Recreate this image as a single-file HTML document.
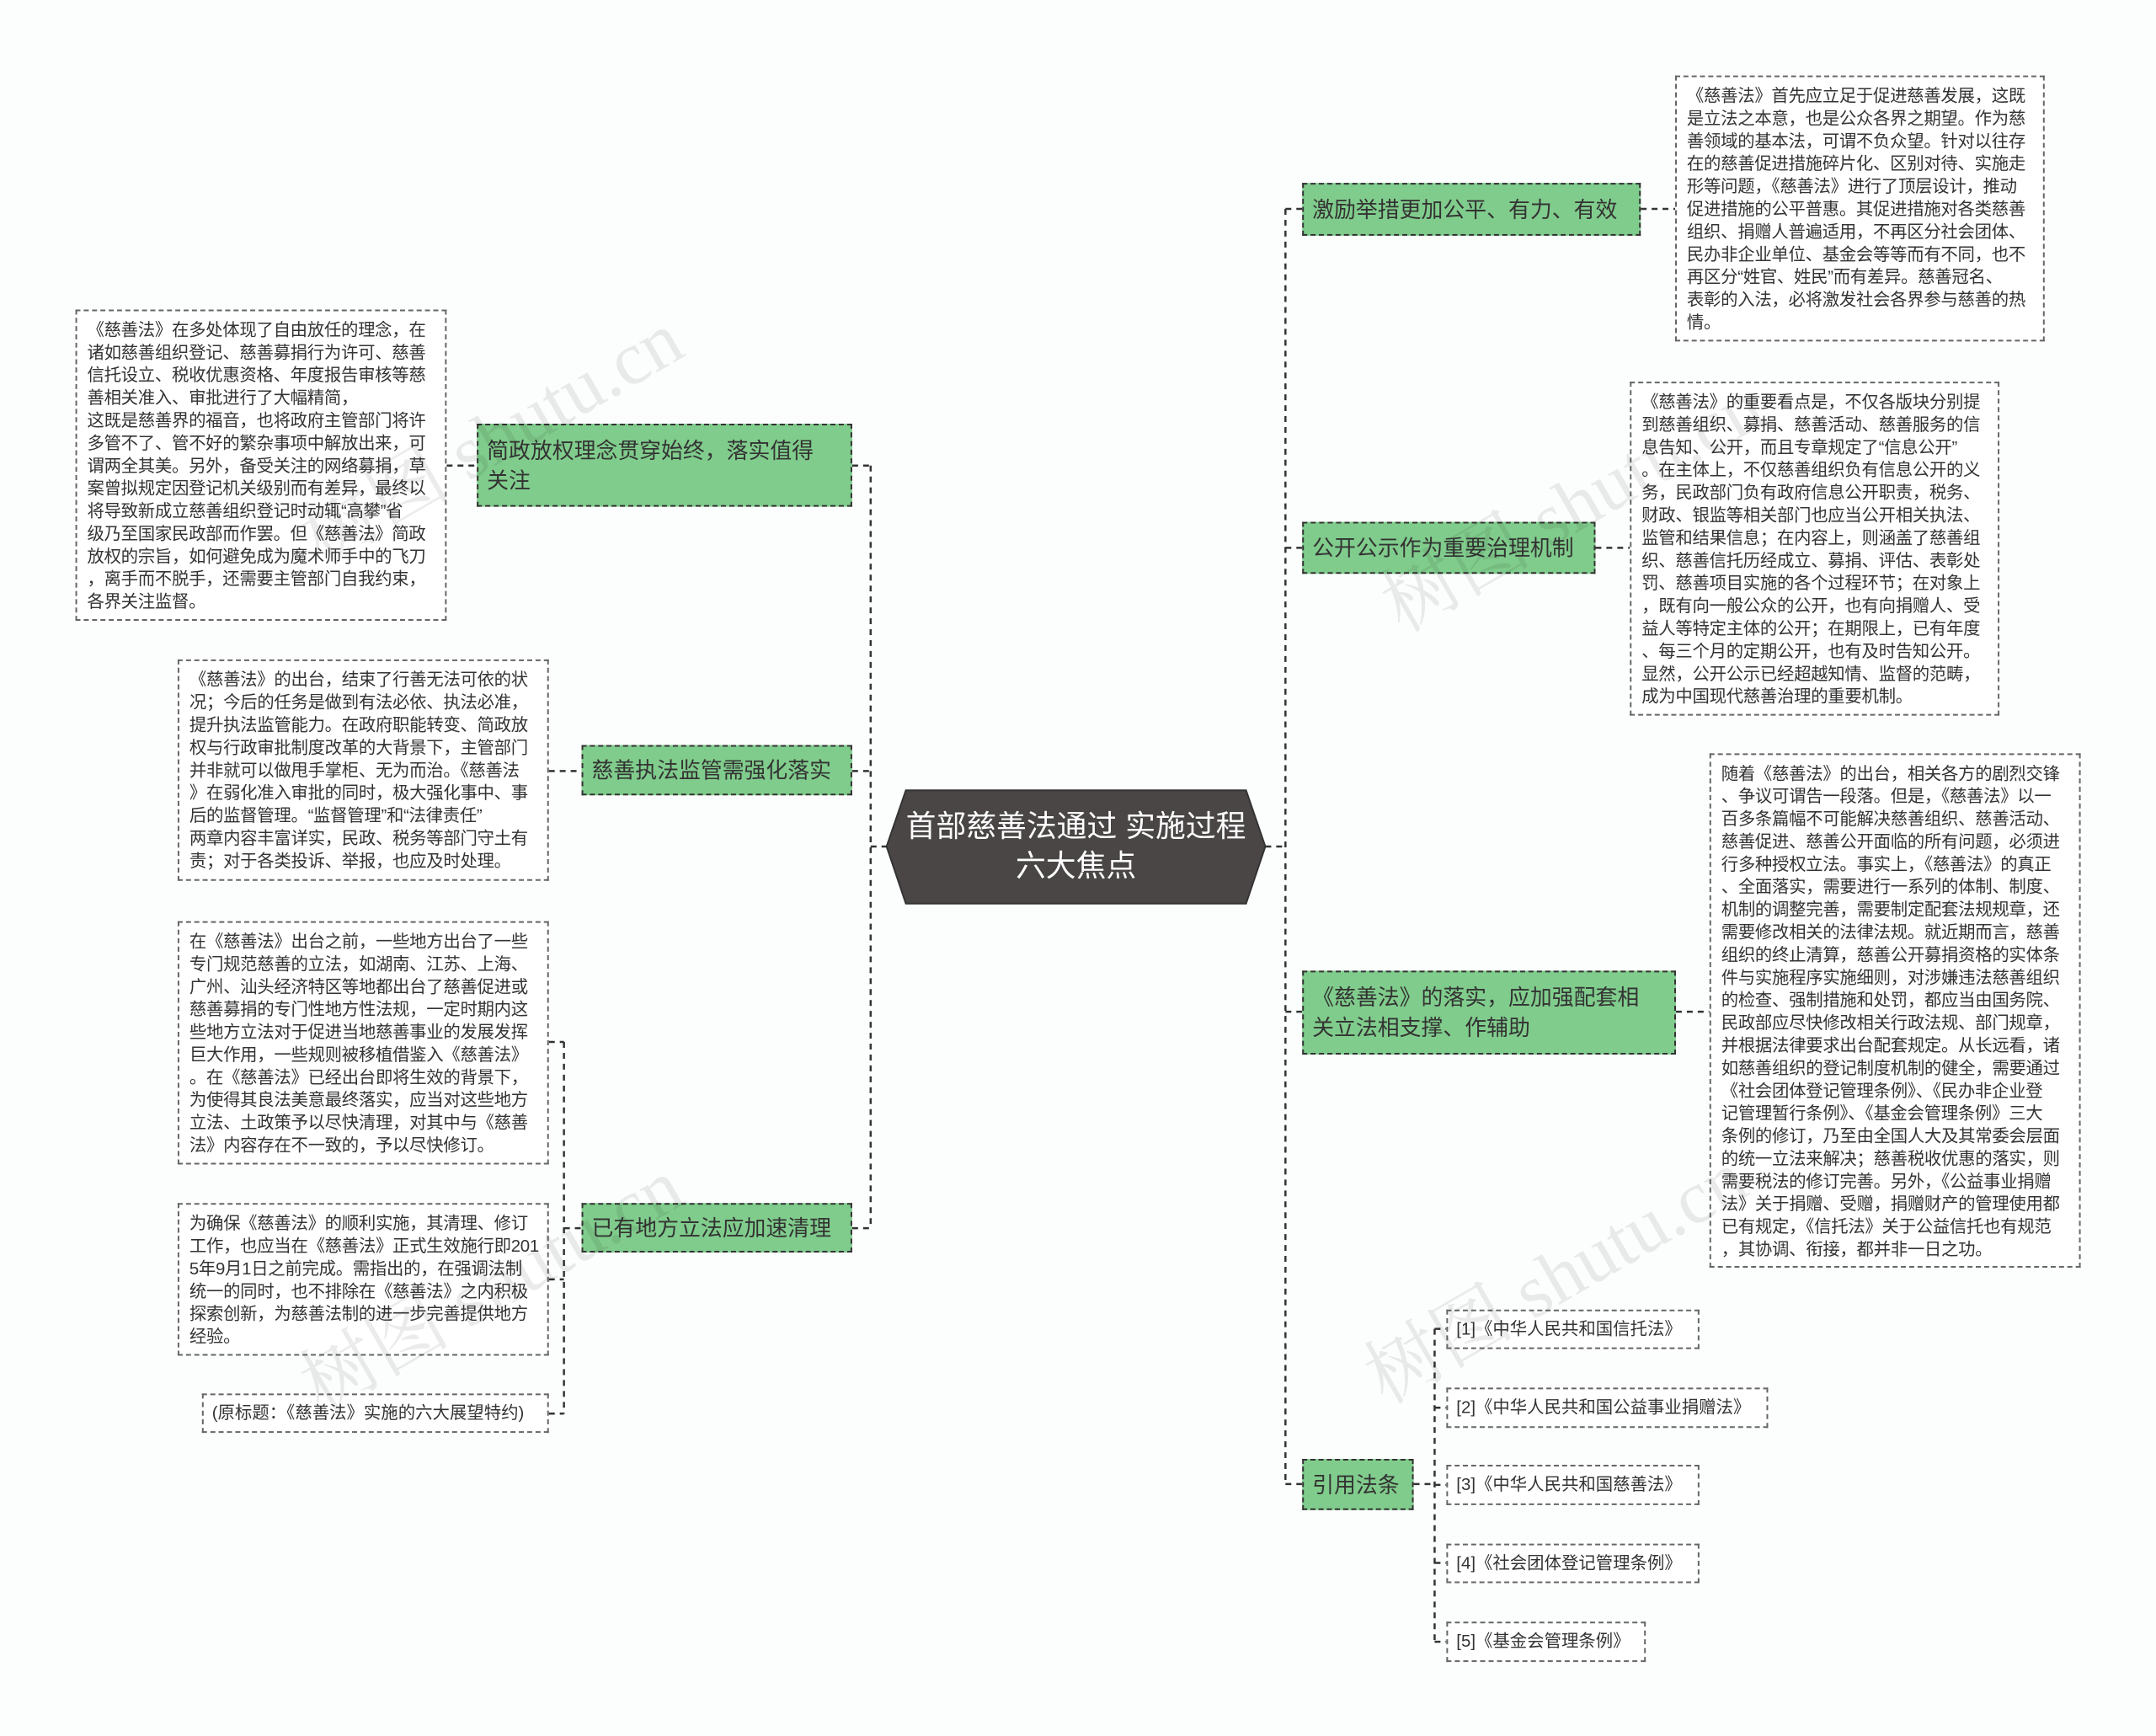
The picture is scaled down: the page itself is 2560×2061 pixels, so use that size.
<!DOCTYPE html>
<html><head><meta charset="utf-8">
<style>
html,body{margin:0;padding:0}
body{width:2560px;height:2061px;position:relative;background:#fcfefe;overflow:hidden;font-family:"Liberation Sans","Noto Sans CJK SC",sans-serif}
#w{position:absolute;left:0;top:0;width:2560px;height:2061px;transform:scale(0.995,0.996);transform-origin:0 0}
.g{position:absolute;background:#80cc8c;border:2px dashed #333;box-sizing:border-box;color:#333;font-size:26px;line-height:36px;padding:0 10px;display:flex;align-items:center;white-space:nowrap}
.t{position:absolute;background:#fff;border:2px dashed #666;box-sizing:border-box;color:#333;font-size:20.5px;line-height:27px;padding:9px 10px 0 12px;white-space:nowrap;letter-spacing:-0.3px}
.r{position:absolute;background:#fff;border:2px dashed #666;box-sizing:border-box;color:#333;font-size:20.5px;line-height:43px;padding:0 10px;white-space:nowrap}
.wm{position:absolute;font-size:90px;color:rgba(0,0,0,0.08);transform:rotate(-30deg);white-space:nowrap;font-family:"Liberation Serif","Noto Serif CJK SC",serif}
</style></head><body><div id="w">
<svg width="2560" height="2061" style="position:absolute;left:0;top:0">
<g stroke="#333" stroke-width="2.5" stroke-dasharray="7,6" fill="none">
<line x1="1039" y1="555" x2="1039" y2="1464"/>
<line x1="1039" y1="1009" x2="1058" y2="1009"/>
<line x1="1017" y1="555" x2="1039" y2="555"/>
<line x1="1017" y1="919" x2="1039" y2="919"/>
<line x1="1017" y1="1464" x2="1039" y2="1464"/>
<line x1="533" y1="555" x2="569" y2="555"/>
<line x1="655" y1="919" x2="694" y2="919"/>
<line x1="673" y1="1464" x2="694" y2="1464"/>
<line x1="673" y1="1242" x2="673" y2="1685"/>
<line x1="655" y1="1242" x2="673" y2="1242"/>
<line x1="655" y1="1525" x2="673" y2="1525"/>
<line x1="655" y1="1685" x2="673" y2="1685"/>
<line x1="1534" y1="249" x2="1534" y2="1769"/>
<line x1="1510" y1="1009" x2="1534" y2="1009"/>
<line x1="1534" y1="249" x2="1554" y2="249"/>
<line x1="1534" y1="653" x2="1554" y2="653"/>
<line x1="1534" y1="1206" x2="1554" y2="1206"/>
<line x1="1534" y1="1769" x2="1554" y2="1769"/>
<line x1="1958" y1="249" x2="1999" y2="249"/>
<line x1="1904" y1="653" x2="1945" y2="653"/>
<line x1="2000" y1="1206" x2="2040" y2="1206"/>
<line x1="1687" y1="1769" x2="1712" y2="1769"/>
<line x1="1712" y1="1584" x2="1712" y2="1957"/>
<line x1="1712" y1="1584" x2="1726" y2="1584"/>
<line x1="1712" y1="1678" x2="1726" y2="1678"/>
<line x1="1712" y1="1770" x2="1726" y2="1770"/>
<line x1="1712" y1="1863" x2="1726" y2="1863"/>
<line x1="1712" y1="1957" x2="1726" y2="1957"/>
</g>
<polygon points="1058,1009 1081,942 1487,942 1510,1009 1487,1077 1081,1077" fill="#4a4646" stroke="#333" stroke-width="2"/>
<text x="1284" y="997" fill="#fff" font-size="36" text-anchor="middle" font-family="Liberation Sans, Noto Sans CJK SC, sans-serif">首部慈善法通过 实施过程</text>
<text x="1284" y="1044" fill="#fff" font-size="36" text-anchor="middle" font-family="Liberation Sans, Noto Sans CJK SC, sans-serif">六大焦点</text>
</svg>

<div class="g" style="left:569px;top:505px;width:448px;height:99px">简政放权理念贯穿始终，落实值得<br>关注</div>
<div class="g" style="left:694px;top:888px;width:323px;height:60px">慈善执法监管需强化落实</div>
<div class="g" style="left:694px;top:1434px;width:323px;height:59px">已有地方立法应加速清理</div>

<div class="t" style="left:90px;top:369px;width:443px;height:371px">《慈善法》在多处体现了自由放任的理念，在<br>诸如慈善组织登记、慈善募捐行为许可、慈善<br>信托设立、税收优惠资格、年度报告审核等慈<br>善相关准入、审批进行了大幅精简，<br>这既是慈善界的福音，也将政府主管部门将许<br>多管不了、管不好的繁杂事项中解放出来，可<br>谓两全其美。另外，备受关注的网络募捐，草<br>案曾拟规定因登记机关级别而有差异，最终以<br>将导致新成立慈善组织登记时动辄“高攀”省<br>级乃至国家民政部而作罢。但《慈善法》简政<br>放权的宗旨，如何避免成为魔术师手中的飞刀<br>，离手而不脱手，还需要主管部门自我约束，<br>各界关注监督。</div>

<div class="t" style="left:212px;top:786px;width:443px;height:264px">《慈善法》的出台，结束了行善无法可依的状<br>况；今后的任务是做到有法必依、执法必准，<br>提升执法监管能力。在政府职能转变、简政放<br>权与行政审批制度改革的大背景下，主管部门<br>并非就可以做甩手掌柜、无为而治。《慈善法<br>》在弱化准入审批的同时，极大强化事中、事<br>后的监督管理。“监督管理”和“法律责任”<br>两章内容丰富详实，民政、税务等部门守土有<br>责；对于各类投诉、举报，也应及时处理。</div>

<div class="t" style="left:212px;top:1098px;width:443px;height:290px">在《慈善法》出台之前，一些地方出台了一些<br>专门规范慈善的立法，如湖南、江苏、上海、<br>广州、汕头经济特区等地都出台了慈善促进或<br>慈善募捐的专门性地方性法规，一定时期内这<br>些地方立法对于促进当地慈善事业的发展发挥<br>巨大作用，一些规则被移植借鉴入《慈善法》<br>。在《慈善法》已经出台即将生效的背景下，<br>为使得其良法美意最终落实，应当对这些地方<br>立法、土政策予以尽快清理，对其中与《慈善<br>法》内容存在不一致的，予以尽快修订。</div>

<div class="t" style="left:212px;top:1434px;width:443px;height:182px">为确保《慈善法》的顺利实施，其清理、修订<br>工作，也应当在《慈善法》正式生效施行即201<br>5年9月1日之前完成。需指出的，在强调法制<br>统一的同时，也不排除在《慈善法》之内积极<br>探索创新，为慈善法制的进一步完善提供地方<br>经验。</div>

<div class="r" style="left:241px;top:1661px;width:414px;height:47px">(原标题：《慈善法》实施的六大展望特约)</div>

<div class="g" style="left:1554px;top:218px;width:404px;height:63px">激励举措更加公平、有力、有效</div>
<div class="g" style="left:1554px;top:622px;width:350px;height:62px">公开公示作为重要治理机制</div>
<div class="g" style="left:1554px;top:1157px;width:446px;height:100px">《慈善法》的落实，应加强配套相<br>关立法相支撑、作辅助</div>
<div class="g" style="left:1554px;top:1739px;width:133px;height:61px">引用法条</div>

<div class="t" style="left:1999px;top:90px;width:441px;height:317px">《慈善法》首先应立足于促进慈善发展，这既<br>是立法之本意，也是公众各界之期望。作为慈<br>善领域的基本法，可谓不负众望。针对以往存<br>在的慈善促进措施碎片化、区别对待、实施走<br>形等问题，《慈善法》进行了顶层设计，推动<br>促进措施的公平普惠。其促进措施对各类慈善<br>组织、捐赠人普遍适用，不再区分社会团体、<br>民办非企业单位、基金会等等而有不同，也不<br>再区分“姓官、姓民”而有差异。慈善冠名、<br>表彰的入法，必将激发社会各界参与慈善的热<br>情。</div>

<div class="t" style="left:1945px;top:455px;width:441px;height:398px">《慈善法》的重要看点是，不仅各版块分别提<br>到慈善组织、募捐、慈善活动、慈善服务的信<br>息告知、公开，而且专章规定了“信息公开”<br>。在主体上，不仅慈善组织负有信息公开的义<br>务，民政部门负有政府信息公开职责，税务、<br>财政、银监等相关部门也应当公开相关执法、<br>监管和结果信息；在内容上，则涵盖了慈善组<br>织、慈善信托历经成立、募捐、评估、表彰处<br>罚、慈善项目实施的各个过程环节；在对象上<br>，既有向一般公众的公开，也有向捐赠人、受<br>益人等特定主体的公开；在期限上，已有年度<br>、每三个月的定期公开，也有及时告知公开。<br>显然，公开公示已经超越知情、监督的范畴，<br>成为中国现代慈善治理的重要机制。</div>

<div class="t" style="left:2040px;top:898px;width:443px;height:613px">随着《慈善法》的出台，相关各方的剧烈交锋<br>、争议可谓告一段落。但是，《慈善法》以一<br>百多条篇幅不可能解决慈善组织、慈善活动、<br>慈善促进、慈善公开面临的所有问题，必须进<br>行多种授权立法。事实上，《慈善法》的真正<br>、全面落实，需要进行一系列的体制、制度、<br>机制的调整完善，需要制定配套法规规章，还<br>需要修改相关的法律法规。就近期而言，慈善<br>组织的终止清算，慈善公开募捐资格的实体条<br>件与实施程序实施细则，对涉嫌违法慈善组织<br>的检查、强制措施和处罚，都应当由国务院、<br>民政部应尽快修改相关行政法规、部门规章，<br>并根据法律要求出台配套规定。从长远看，诸<br>如慈善组织的登记制度机制的健全，需要通过<br>《社会团体登记管理条例》、《民办非企业登<br>记管理暂行条例》、《基金会管理条例》三大<br>条例的修订，乃至由全国人大及其常委会层面<br>的统一立法来解决；慈善税收优惠的落实，则<br>需要税法的修订完善。另外，《公益事业捐赠<br>法》关于捐赠、受赠，捐赠财产的管理使用都<br>已有规定，《信托法》关于公益信托也有规范<br>，其协调、衔接，都并非一日之功。</div>

<div class="r" style="left:1726px;top:1561px;width:302px;height:47px">[1]《中华人民共和国信托法》</div>
<div class="r" style="left:1726px;top:1654px;width:384px;height:48px">[2]《中华人民共和国公益事业捐赠法》</div>
<div class="r" style="left:1726px;top:1746px;width:302px;height:48px">[3]《中华人民共和国慈善法》</div>
<div class="r" style="left:1726px;top:1840px;width:302px;height:47px">[4]《社会团体登记管理条例》</div>
<div class="r" style="left:1726px;top:1933px;width:238px;height:48px">[5]《基金会管理条例》</div>

<div class="wm" style="left:330px;top:450px">树图 shutu.cn</div>
<div class="wm" style="left:330px;top:1460px">树图 shutu.cn</div>
<div class="wm" style="left:1620px;top:530px">树图 shutu.cn</div>
<div class="wm" style="left:1600px;top:1450px">树图 shutu.cn</div>
</div></body></html>
